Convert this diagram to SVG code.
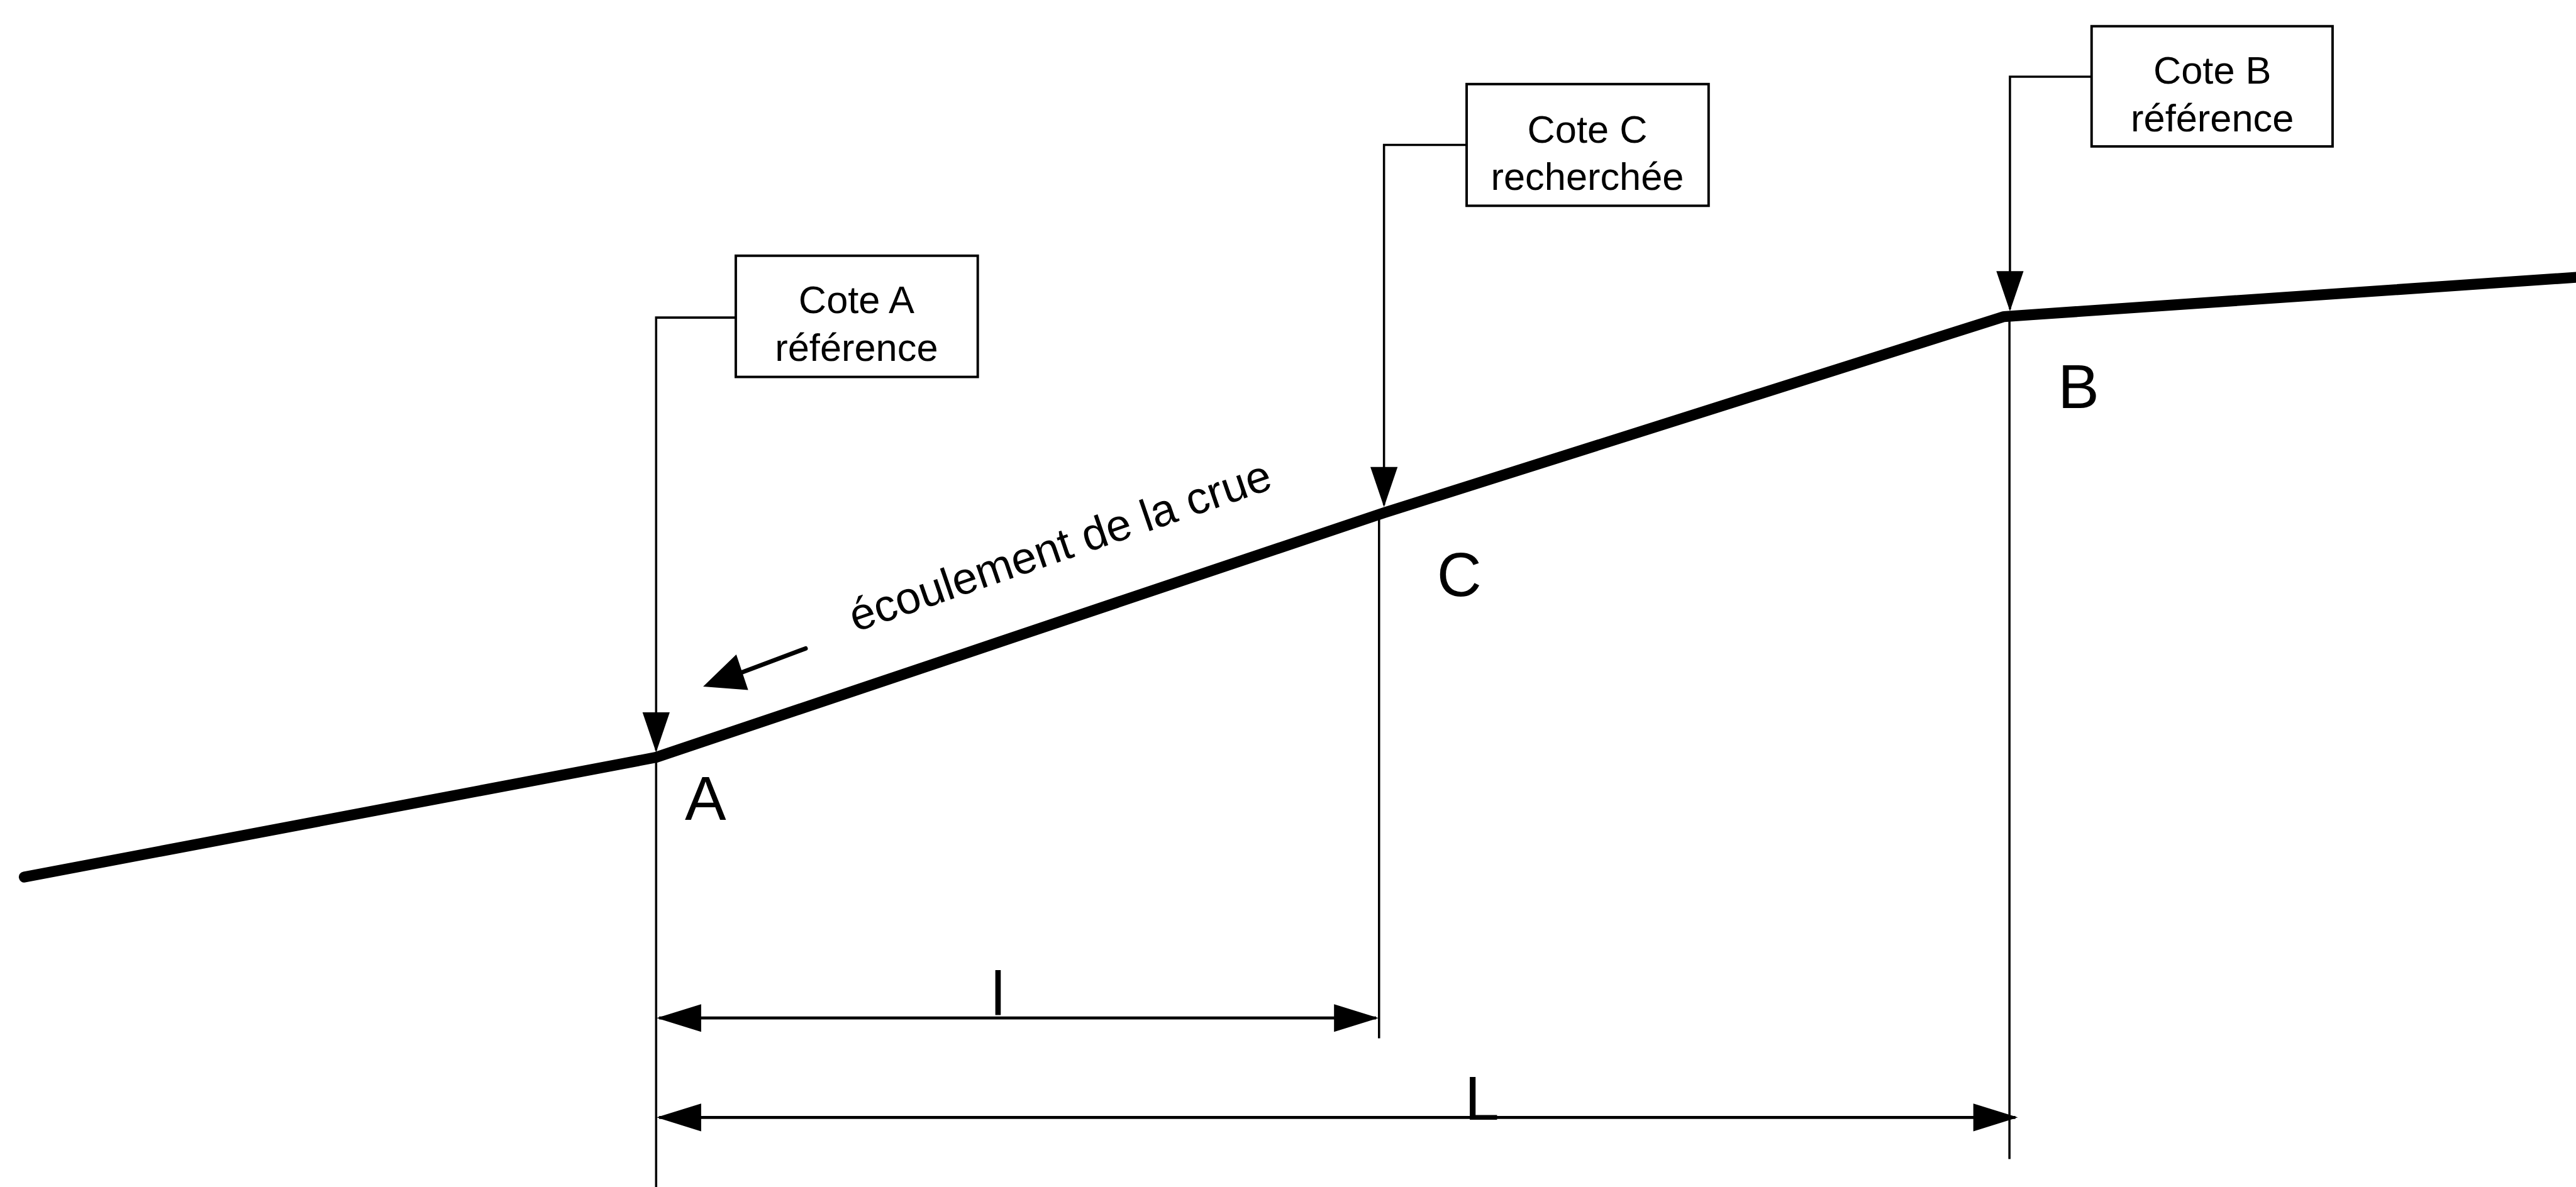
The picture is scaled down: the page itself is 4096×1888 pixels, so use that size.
<svg xmlns="http://www.w3.org/2000/svg" width="4096" height="1888" viewBox="0 0 4096 1888">
<style>
text{font-family:"Liberation Sans",Arial,Helvetica,sans-serif;fill:#000}
.box{fill:#fff;stroke:#000;stroke-width:5}
.bt{font-size:78px;text-anchor:middle}
.lbl{font-size:125px}
.lead{fill:none;stroke:#000;stroke-width:4.5}
.ext{fill:none;stroke:#000;stroke-width:4.5}
.dim{fill:none;stroke:#000;stroke-width:6}
.profile{fill:none;stroke:#000;stroke-width:22;stroke-linecap:round;stroke-linejoin:round}
</style>
<defs>
<marker id="ah" markerUnits="userSpaceOnUse" markerWidth="81" markerHeight="55" refX="77" refY="27.5" orient="auto" overflow="visible">
<path d="M0,0 L81,27.5 L0,55 Z" fill="#000"/>
</marker>
<marker id="dh" markerUnits="userSpaceOnUse" markerWidth="90" markerHeight="56" refX="85" refY="28" orient="auto-start-reverse" overflow="visible">
<path d="M0,0 L90,28 L0,56 Z" fill="#000"/>
</marker>
</defs>
<rect x="0" y="0" width="4096" height="1888" fill="#fff"/>
<g transform="scale(0.78679)">
<g id="profile">
<polyline class="profile" points="49,1773 1326,1531 2796,1037 4050,640 5230,559"/>
</g>
<g id="connectors">
<path class="lead" d="M1487,642 H1326 V1517" marker-end="url(#ah)"/>
<path class="lead" d="M2964,293 H2797 V1021" marker-end="url(#ah)"/>
<path class="lead" d="M4227,155 H4062 V625" marker-end="url(#ah)"/>
<line class="ext" x1="1326" y1="1531" x2="1326" y2="2400"/>
<line class="ext" x1="2787" y1="1040" x2="2787" y2="2099"/>
<line class="ext" x1="4061" y1="640" x2="4061" y2="2343"/>
<path class="dim" d="M1332,2058 H2781" marker-start="url(#dh)" marker-end="url(#dh)"/>
<path class="dim" d="M1332,2259 H4073" marker-start="url(#dh)" marker-end="url(#dh)"/>
</g>
<g id="node-cote-a">
<rect class="box" x="1487" y="517" width="489" height="245"/>
<text class="bt" x="1731" y="633">Cote A</text>
<text class="bt" x="1731" y="729">référence</text>
</g>
<g id="node-cote-c">
<rect class="box" x="2964" y="170" width="489" height="246"/>
<text class="bt" x="3208" y="288">Cote C</text>
<text class="bt" x="3208" y="384">recherchée</text>
</g>
<g id="node-cote-b">
<rect class="box" x="4227" y="53" width="487" height="243"/>
<text class="bt" x="4471" y="169">Cote B</text>
<text class="bt" x="4471" y="266">référence</text>
</g>
<g id="point-labels">
<text class="lbl" x="1384" y="1658">A</text>
<text class="lbl" x="2904" y="1205">C</text>
<text class="lbl" x="4159" y="825">B</text>
<text class="lbl" x="2003" y="2052">l</text>
<text class="lbl" x="2960" y="2264">L</text>
</g>
<g id="flow">
<line x1="1628" y1="1311" x2="1500" y2="1359" stroke="#000" stroke-width="9" stroke-linecap="round"/>
<polygon points="1421,1388 1488,1323 1512,1395" fill="#000"/>
<text x="1729" y="1278" font-size="91" transform="rotate(-19 1729 1278)">écoulement de la crue</text>
</g>
</g>
</svg>
